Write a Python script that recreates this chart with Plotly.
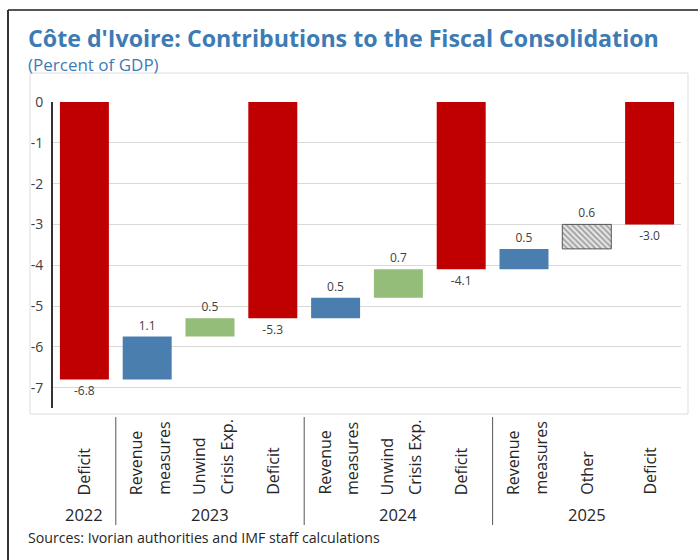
import plotly.graph_objects as go

# ---------------- data ----------------
years = ["2022", "2023", "2024", "2025"]
year_groups = [[0], [1, 2, 3], [4, 5, 6], [7, 8, 9]]
label_line1 = ["Deficit", "Revenue", "Unwind", "Deficit", "Revenue", "Unwind", "Deficit", "Revenue", "Other", "Deficit"]
label_line2 = ["", "measures", "Crisis Exp.", "", "measures", "Crisis Exp.", "", "measures", "", ""]
kinds = ["deficit", "revenue", "unwind", "deficit", "revenue", "unwind", "deficit", "revenue", "other", "deficit"]
values = [-6.8, 1.05, 0.45, -5.3, 0.5, 0.7, -4.1, 0.5, 0.6, -3.0]
y_ticks = [0, -1, -2, -3, -4, -5, -6, -7]

# ---------------- layout constants ----------------
W, H = 698, 560
ML, MR, MT, MB = 53, 17, 102, 152
PW, PH = W - ML - MR, H - MT - MB


def px_x(p):
    return (p - ML) / PW


def px_y(p):
    return (H - MB - p) / PH


FONT = "Open Sans"
TITLE_C = "#3E7BB4"
TXT = "#262626"

colors = {"deficit": "#C00000", "revenue": "#4A7EAF", "unwind": "#93BD78", "other": "#E6E6E6"}

# bases (waterfall)
bases, level = [], 0.0
for k, v in zip(kinds, values):
    if k == "deficit":
        bases.append(0.0)
        level = v
    else:
        bases.append(level)
        level += v

fig = go.Figure()
for kind in ["deficit", "revenue", "unwind", "other"]:
    idx = [i for i, k in enumerate(kinds) if k == kind]
    marker = dict(color=colors[kind], line=dict(width=0))
    if kind == "other":
        marker = dict(color="#E6E6E6",
                      pattern=dict(shape="\\", fgcolor="#555555", bgcolor="#E6E6E6", size=4, solidity=0.45),
                      line=dict(color="#555555", width=1))
    fig.add_trace(go.Bar(
        x=idx, y=[values[i] for i in idx], base=[bases[i] for i in idx],
        width=0.78, marker=marker,
        text=[f"{values[i]:.1f}" for i in idx], textposition="outside",
        textfont=dict(family=FONT, size=12, color="#404040"),
        cliponaxis=False, showlegend=False, hoverinfo="skip",
    ))

fig.update_layout(
    width=W, height=H, margin=dict(l=ML, r=MR, t=MT, b=MB),
    paper_bgcolor="white", plot_bgcolor="white", barmode="overlay",
    font=dict(family=FONT, color=TXT),
    xaxis=dict(range=[-0.5, len(kinds) - 0.5], showticklabels=False, showgrid=False,
               zeroline=False, showline=False, fixedrange=True),
    yaxis=dict(range=[-7.5, 0], tickvals=y_ticks, ticktext=[str(t) for t in y_ticks],
               showgrid=True, gridcolor="#D9D9D9", gridwidth=1, zeroline=False,
               showline=True, linecolor="#333333", linewidth=2, ticks="",
               ticklabelstandoff=5, tickfont=dict(family=FONT, size=14, color="#404040")),
)

shapes = []
# outer frame (top + left)
shapes.append(dict(type="line", xref="paper", yref="paper", x0=px_x(8), x1=px_x(698), y0=px_y(10), y1=px_y(10),
                   line=dict(color="#555555", width=2)))
shapes.append(dict(type="line", xref="paper", yref="paper", x0=px_x(8), x1=px_x(8), y0=px_y(10), y1=px_y(560),
                   line=dict(color="#333333", width=2)))
# inner plot box
shapes.append(dict(type="rect", xref="paper", yref="paper", x0=px_x(30), x1=px_x(688), y0=px_y(414), y1=px_y(73),
                   line=dict(color="#DDDDDD", width=1), layer="below"))
# group separators
for g in year_groups[1:]:
    xs = g[0] - 0.5
    shapes.append(dict(type="line", xref="x", yref="paper", x0=xs, x1=xs, y0=px_y(417), y1=px_y(525),
                       line=dict(color="#555555", width=1)))
fig.update_layout(shapes=shapes)

ann = []
ann.append(dict(text="Côte d'Ivoire: Contributions to the Fiscal Consolidation", xref="paper", yref="paper",
                x=px_x(26), y=px_y(38), xanchor="left", yanchor="middle", showarrow=False,
                font=dict(family=FONT, size=23.2, color=TITLE_C, weight=700)))
ann.append(dict(text="(Percent of GDP)", xref="paper", yref="paper",
                x=px_x(26), y=px_y(64), xanchor="left", yanchor="middle", showarrow=False,
                font=dict(family=FONT, size=17, color=TITLE_C)))
ann.append(dict(text="Sources: Ivorian authorities and IMF staff calculations", xref="paper", yref="paper",
                x=px_x(26), y=px_y(537), xanchor="left", yanchor="middle", showarrow=False,
                font=dict(family=FONT, size=14.2, color=TXT)))
# category labels (rotated)
for i, (l1, l2) in enumerate(zip(label_line1, label_line2)):
    lines = [l1] if not l2 else [l1, l2]
    shifts = [0] if not l2 else [-11, 16]
    for t, s in zip(lines, shifts):
        ann.append(dict(text=t, xref="x", yref="paper", x=i, y=px_y(497), xanchor="center", yanchor="bottom",
                        xshift=s, textangle=-90, showarrow=False,
                        font=dict(family=FONT, size=16, color=TXT)))
# year labels
for yr, g in zip(years, year_groups):
    ann.append(dict(text=yr, xref="x", yref="paper", x=(g[0] + g[-1]) / 2, y=px_y(514),
                    xanchor="center", yanchor="middle", showarrow=False,
                    font=dict(family=FONT, size=16.5, color=TXT)))
fig.update_layout(annotations=ann)

fig.write_html("out.html")
